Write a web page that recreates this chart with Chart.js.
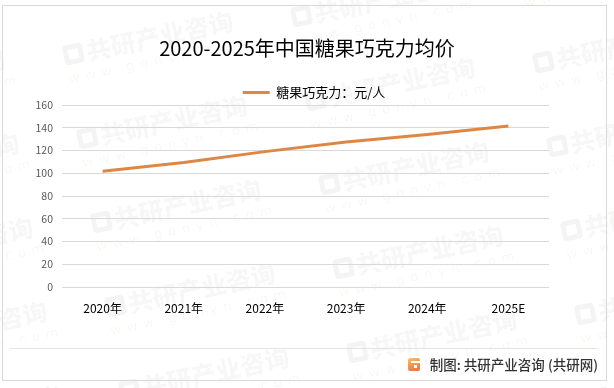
<!DOCTYPE html>
<html>
<head>
<meta charset="utf-8">
<script src="https://cdn.jsdelivr.net/npm/chart.js@4/dist/chart.umd.min.js"></script>
<style>
  html, body { margin: 0; padding: 0; background: #ffffff; }
  #wrap { position: relative; width: 614px; height: 388px; overflow: hidden; background: #fff; }
  #wm { position: absolute; left: 0; top: 0; width: 614px; height: 388px; overflow: hidden; }
  .mark { position: absolute; transform: translate(-50%, -50%) rotate(-12deg); text-align: center; color: rgba(0,0,0,0.045); font-family: "Noto Sans CJK SC", sans-serif; white-space: nowrap; line-height: 1; }
  .mark .t { font-size: 25px; font-weight: 900; display: flex; align-items: center; gap: 3px; }
  .mark .g { display: inline-block; width: 20px; height: 20px; border-radius: 4px; border: 5px solid rgba(0,0,0,0.045); box-sizing: border-box; }
  .mark .u { font-size: 13px; letter-spacing: 6px; margin-top: 5px; font-family: "DejaVu Sans", sans-serif; }
  #frame { position: absolute; left: 2px; top: 5px; width: 605px; height: 376px; border: 1px solid #d9d9d9; box-sizing: border-box; pointer-events: none; }
  #c { position: absolute; left: 0; top: 0; }
  #footline { position: absolute; left: 10px; top: 348px; width: 587px; height: 1px; background: #e3e3e3; }
  #footer { position: absolute; right: 16px; top: 355px; font-family: "Noto Sans CJK SC", "Noto Sans", sans-serif; font-size: 13.5px; color: #333; font-weight: 500; line-height: 18px; white-space: nowrap; display: flex; align-items: center; }
  #logo { width: 12px; height: 13px; margin-right: 10px; border-radius: 2px; background: linear-gradient(160deg, #f8c16a, #f06a3b); position: relative; }
  #logo:before { content: ""; position: absolute; left: 3px; top: 3px; width: 9px; height: 2px; background: #fff; }
  #logo:after { content: ""; position: absolute; left: 6px; top: 7px; width: 3px; height: 3px; background: #fff; }
</style>
</head>
<body>
<div id="wrap">
  <div id="wm"></div>
  <canvas id="c" width="614" height="388"></canvas>
  <div id="frame"></div>
  <div id="footline"></div>
  <div id="footer"><div id="logo"></div><span>制图: 共研产业咨询 (共研网)</span></div>
</div>
<script>
const chartTitle = "2020-2025年中国糖果巧克力均价";
const categories = ["2020年", "2021年", "2022年", "2023年", "2024年", "2025E"];
const seriesName = "糖果巧克力：元/人";
const priceValues = [101.7, 109.5, 119, 127.5, 134, 141.5];
const yTicks = [0, 20, 40, 60, 80, 100, 120, 140, 160];

const ORANGE = "#DE8744";
const CJK = "'Noto Sans CJK SC', 'Noto Sans', sans-serif";

// decorative background watermark tiles
(function () {
  const wm = document.getElementById("wm");
  for (let c = -1; c <= 3; c++) {
    for (let r = -1; r <= 5; r++) {
      const x = 156 + 228 * c + 14 * r;
      const y = 45 - 38 * c + 84 * r;
      if (x < -120 || x > 740 || y < -60 || y > 450) continue;
      const d = document.createElement("div");
      d.className = "mark";
      d.style.left = x + "px";
      d.style.top = y + "px";
      d.innerHTML = '<div class="t"><span class="g"></span><span>共研产业咨询</span></div><div class="u">www.gonyn.com</div>';
      wm.appendChild(d);
    }
  }
})();

const legendTweak = {
  id: "legendTweak",
  afterInit(chart) {
    const lg = chart.legend;
    if (lg && !lg._wrapped) {
      const orig = lg.fit.bind(lg);
      lg.fit = function () { orig(); this.height = Math.max(0, this.height - 4); };
      lg._wrapped = true;
    }
  },
  afterLayout(chart) {
    const lg = chart.legend;
    if (lg) { lg.left += 7; lg.right += 7; }
  }
};

new Chart(document.getElementById("c"), {
  type: "line",
  data: {
    labels: categories,
    datasets: [{
      label: seriesName,
      data: priceValues,
      borderColor: ORANGE,
      backgroundColor: ORANGE,
      borderWidth: 3,
      pointRadius: 0,
      tension: 0,
      fill: false,
      yAxisID: "y"
    }]
  },
  plugins: [legendTweak],
  options: {
    responsive: false,
    animation: false,
    devicePixelRatio: 1,
    layout: { padding: { left: 0, right: 0, top: 0, bottom: 0 } },
    plugins: {
      title: {
        display: true,
        text: chartTitle,
        color: "#000",
        font: { family: CJK, size: 20, weight: "normal" },
        padding: { top: 36, bottom: 22 }
      },
      legend: {
        display: true,
        position: "top",
        labels: {
          color: "#000",
          font: { family: CJK, size: 13 },
          boxWidth: 27,
          boxHeight: 3,
          padding: 4,
          generateLabels: (chart) => chart.data.datasets.map((ds, i) => ({
            text: ds.label, fillStyle: ds.borderColor, strokeStyle: ds.borderColor,
            lineWidth: 0, hidden: false, datasetIndex: i, fontColor: "#000"
          }))
        }
      },
      tooltip: { enabled: false }
    },
    scales: {
      x: {
        offset: true,
        grid: { display: false, drawTicks: false },
        border: { display: false },
        ticks: { color: "#000", font: { family: CJK, size: 12 }, padding: 14, maxRotation: 0 },
        afterFit: (s) => { s.height = 101; }
      },
      y: {
        position: "left",
        min: 0, max: 160,
        afterBuildTicks: (s) => { s.ticks = yTicks.map(v => ({ value: v })); },
        grid: { color: "#d9d9d9", lineWidth: 1, drawTicks: false },
        border: { display: false },
        ticks: { color: "#595959", font: { family: CJK, size: 10.5 }, padding: 9 },
        afterFit: (s) => { s.width = 62; }
      },
      yRight: {
        position: "right",
        display: true,
        min: 0, max: 160,
        grid: { display: false, drawTicks: false },
        border: { display: false },
        ticks: { display: false },
        afterFit: (s) => { s.width = 65; }
      }
    }
  }
});
</script>
</body>
</html>
